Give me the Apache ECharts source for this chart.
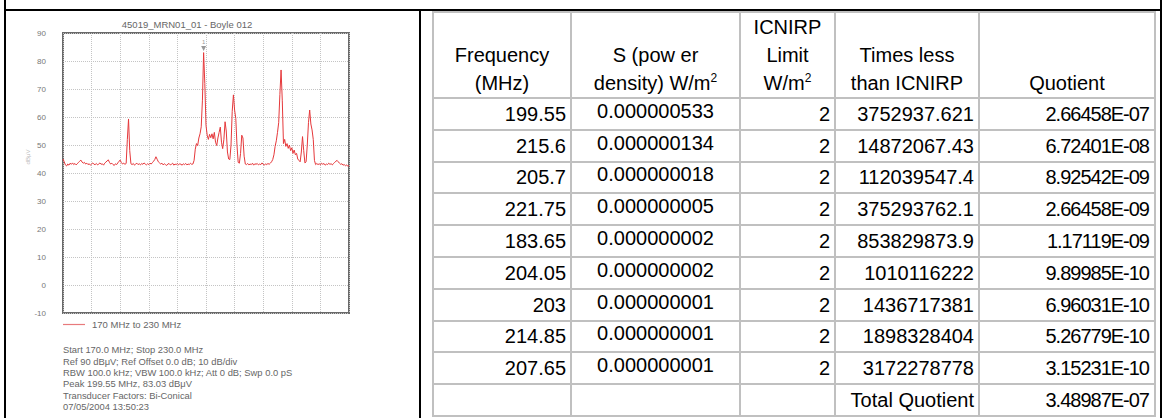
<!DOCTYPE html>
<html>
<head>
<meta charset="utf-8">
<title>45019_MRN01_01 - Boyle 012</title>
<script src="https://cdn.jsdelivr.net/npm/echarts@6/dist/echarts.min.js"></script>
<style>
html, body { margin: 0; padding: 0; background: #fff; }
#page { position: relative; width: 1171px; height: 418px; overflow: hidden; font-family: 'Liberation Sans', Arial, sans-serif; }
#main { position: absolute; left: 0; top: 0; width: 419px; height: 418px; }
.rule { position: absolute; background: #000; z-index: 5; }
#report { position: absolute; left: 432px; top: 11px; border-collapse: collapse; table-layout: fixed; font-size: 20px; color: #000; }
#report td { box-sizing: border-box; border: 2px solid #c0c0c0; padding: 0 4px; white-space: nowrap; overflow: visible; line-height: 22px; vertical-align: middle; }
#report tr.head td { height: 84.8px; line-height: 28px; vertical-align: bottom; text-align: center; padding: 0; }
#report tr.row td { height: 31.8px; }
#report td.r { text-align: right; }
#report td.c { text-align: center; }
#report td.c span { position: relative; top: -3px; }
#report td.q { text-align: right; letter-spacing: -1px; padding-right: 5px; }
#report sup { font-size: 12px; vertical-align: 8px; line-height: 0; }
</style>
</head>
<body>
<div id="page">
  <div class="rule" style="left:4px; top:0; width:2px; height:418px;"></div>
  <div class="rule" style="left:4px; top:9px; width:1158px; height:2px;"></div>
  <div class="rule" style="left:419px; top:9px; width:2px; height:409px;"></div>
  <div class="rule" style="left:1160px; top:0; width:2px; height:418px;"></div>
  <div id="main"></div>
  <table id="report">
    <colgroup>
      <col style="width:138px"><col style="width:169px"><col style="width:95px"><col style="width:144px"><col style="width:176px">
    </colgroup>
    <tbody id="reportBody">
      <tr class="head">
        <td>Frequency<br>(MHz)</td>
        <td>S (pow er<br>density) W/m<sup>2</sup></td>
        <td>ICNIRP<br>Limit<br>W/m<sup>2</sup></td>
        <td>Times less<br>than ICNIRP</td>
        <td>Quotient</td>
      </tr>
    </tbody>
  </table>
</div>
<script>
// sweep settings (from the analyser footer)
var sweepStartMHz = 170;
var sweepStepMHz = 0.25;

// measured level, dBuV, one value per sweep point (170 -> 230 MHz)
var levelDbuv = [
    45.0, 44.0, 42.9, 42.5, 43.2, 42.8, 43.5, 43.1, 43.6, 43.0,
    43.4, 42.9, 43.3, 43.8, 44.2, 44.6, 43.9, 43.5, 43.8, 43.2,
    43.5, 43.0, 43.3, 42.8, 43.2, 43.6, 43.1, 43.0, 43.4, 42.9,
    43.2, 43.6, 43.1, 43.3, 42.8, 43.5, 43.9, 44.3, 44.7, 43.8,
    43.2, 43.5, 43.0, 42.7, 43.3, 43.0, 43.6, 44.2, 44.6, 43.7,
    43.2, 43.5, 43.1, 43.4, 52.0, 59.3, 48.0, 43.3, 43.0, 43.4,
    42.8, 43.2, 43.5, 43.0, 43.3, 42.9, 43.4, 43.1, 43.6, 43.2,
    42.9, 43.3, 43.0, 43.5, 43.2, 43.7, 44.2, 44.8, 45.8, 44.9,
    44.0, 43.6, 43.2, 43.5, 42.9, 43.3, 43.0, 42.7, 43.2, 43.4,
    42.9, 43.1, 43.5, 42.8, 43.2, 43.0, 43.4, 42.9, 43.3, 43.1,
    42.8, 43.3, 43.0, 43.4, 42.9, 43.2, 43.0, 43.5, 43.1, 43.2,
    44.5, 48.5, 50.5, 49.8, 52.5, 54.0, 56.5, 66.0, 83.0, 72.0,
    57.0, 53.5, 52.0, 53.8, 52.6, 54.0, 52.2, 54.5, 51.0, 49.8,
    52.5, 54.5, 56.4, 51.0, 48.7, 52.0, 58.3, 55.0, 47.5, 45.0,
    44.8, 50.0, 62.0, 67.9, 62.5, 59.5, 50.0, 43.8, 43.5, 47.0,
    53.5, 52.5, 46.0, 43.2, 43.0, 43.4, 42.9, 43.2, 43.0, 43.5,
    42.8, 43.3, 43.1, 43.4, 42.9, 43.2, 43.0, 43.6, 43.1, 42.8,
    43.3, 43.0, 43.4, 43.1, 43.5, 44.0, 44.8, 46.5, 49.5, 51.5,
    54.5, 58.0, 68.0, 76.8, 66.0, 50.5, 52.0, 49.5, 50.5, 48.8,
    50.0, 48.0, 49.0, 47.0, 48.2, 46.5, 47.0, 45.0, 44.5, 44.0,
    47.5, 53.0, 48.0, 43.6, 44.0, 50.0, 58.0, 62.5, 57.5, 55.4,
    52.0, 44.5, 43.0, 43.4, 43.0, 43.3, 42.9, 43.5, 43.1, 43.4,
    42.8, 43.2, 43.0, 43.5, 43.1, 43.3, 42.9, 43.4, 43.8, 44.2,
    44.5, 44.0, 43.5, 43.1, 43.3, 42.8, 43.0, 42.6, 42.9, 42.4,
    42.7
];

var footerLines = [
    'Start 170.0 MHz; Stop 230.0 MHz',
    'Ref 90 dB\u03bcV; Ref Offset 0.0 dB; 10 dB/div',
    'RBW 100.0 kHz; VBW 100.0 kHz; Att 0 dB; Swp 0.0 pS',
    'Peak 199.55 MHz, 83.03 dB\u03bcV',
    'Transducer Factors: Bi-Conical',
    '07/05/2004 13:50:23'
];

// table columns
var freqMHz = ['199.55', '215.6', '205.7', '221.75', '183.65', '204.05', '203', '214.85', '207.65'];
var powerDensity = ['0.000000533', '0.000000134', '0.000000018', '0.000000005', '0.000000002',
    '0.000000002', '0.000000001', '0.000000001', '0.000000001'];
var icnirpLimit = [2, 2, 2, 2, 2, 2, 2, 2, 2];
var timesLess = ['3752937.621', '14872067.43', '112039547.4', '375293762.1', '853829873.9',
    '1010116222', '1436717381', '1898328404', '3172278778'];
var quotient = ['2.66458E-07', '6.72401E-08', '8.92542E-09', '2.66458E-09', '1.17119E-09',
    '9.89985E-10', '6.96031E-10', '5.26779E-10', '3.15231E-10'];
var totalQuotient = '3.48987E-07';

var textFont = "'Liberation Sans', Arial, sans-serif";
var myChart = echarts.init(document.getElementById('main'), null, { renderer: 'svg' });
buildTable();
drawSpectrum();

function drawSpectrum() {
    var spectrum = [];
    for (var i = 0; i < levelDbuv.length; i++) {
        spectrum.push([sweepStartMHz + i * sweepStepMHz, levelDbuv[i]]);
    }
    var option = {
        animation: false,
        textStyle: { fontFamily: textFont },
        grid: {
            left: 63, top: 33, width: 286, height: 280,
            show: true, borderColor: '#6a6a6a', borderWidth: 2
        },
        legend: {
            left: 63, top: 319.5, padding: 0,
            itemWidth: 22, itemHeight: 1.2,
            textStyle: { fontSize: 9.5, color: '#666', padding: [0, 0, 0, 2] },
            data: [{ name: '170 MHz to 230 MHz', icon: 'rect' }]
        },
        xAxis: [
            { type: 'value', min: 170, max: 230, show: false },
            {
                // 10 divisions across the sweep
                type: 'value', min: 0, max: 10, interval: 1, position: 'bottom',
                axisLine: { show: false }, axisTick: { show: false }, axisLabel: { show: false },
                splitLine: { show: true, lineStyle: { type: 'dotted', color: '#c4c4c4' } }
            }
        ],
        yAxis: {
            type: 'value', min: -10, max: 90, interval: 10,
            axisLine: { show: false }, axisTick: { show: false },
            axisLabel: { fontSize: 8, color: '#777', margin: 17, padding: [8, 0, 0, 0] },
            splitLine: { lineStyle: { type: 'dotted', color: '#c4c4c4' } }
        },
        graphic: [
            {
                type: 'text', x: 187, y: 24,
                style: {
                    text: '45019_MRN01_01 - Boyle 012', fill: '#666', font: '9.5px ' + textFont,
                    align: 'center', verticalAlign: 'middle', textAlign: 'center', textVerticalAlign: 'middle'
                }
            },
            {
                type: 'text', x: 28, y: 157, rotation: Math.PI / 2,
                style: {
                    text: 'dB\u03bcV', fill: '#bbb', font: '6px ' + textFont,
                    align: 'center', verticalAlign: 'middle', textAlign: 'center', textVerticalAlign: 'middle'
                }
            },
            {
                type: 'text', x: 63, y: 344,
                style: {
                    text: footerLines.join('\n'), fill: '#666', font: '9.4px ' + textFont, lineHeight: 11.4,
                    align: 'left', verticalAlign: 'top', textAlign: 'left', textVerticalAlign: 'top'
                }
            }
        ],
        series: [
            {
                name: '170 MHz to 230 MHz',
                type: 'line',
                xAxisIndex: 0,
                symbol: 'none',
                data: spectrum,
                lineStyle: { color: '#e5383b', width: 1 },
                itemStyle: { color: '#e87a7c' },
                markPoint: {
                    symbol: 'triangle', symbolRotate: 180, symbolSize: 5, symbolOffset: [0, -4],
                    itemStyle: { color: '#999' },
                    label: { show: true, position: 'top', distance: 1, formatter: '1', fontSize: 6, color: '#999' },
                    data: [{ type: 'max' }]
                }
            }
        ]
    };
    myChart.setOption(option);
}

function buildTable() {
    var body = document.getElementById('reportBody');
    var html = '';
    for (var i = 0; i < freqMHz.length; i++) {
        html += '<tr class="row">' +
            '<td class="r">' + freqMHz[i] + '</td>' +
            '<td class="c"><span>' + powerDensity[i] + '</span></td>' +
            '<td class="r">' + icnirpLimit[i] + '</td>' +
            '<td class="r">' + timesLess[i] + '</td>' +
            '<td class="q">' + quotient[i] + '</td>' +
            '</tr>';
    }
    html += '<tr class="row"><td></td><td></td><td></td>' +
        '<td class="r">Total Quotient</td><td class="q">' + totalQuotient + '</td></tr>';
    body.insertAdjacentHTML('beforeend', html);
}
</script>
</body>
</html>
